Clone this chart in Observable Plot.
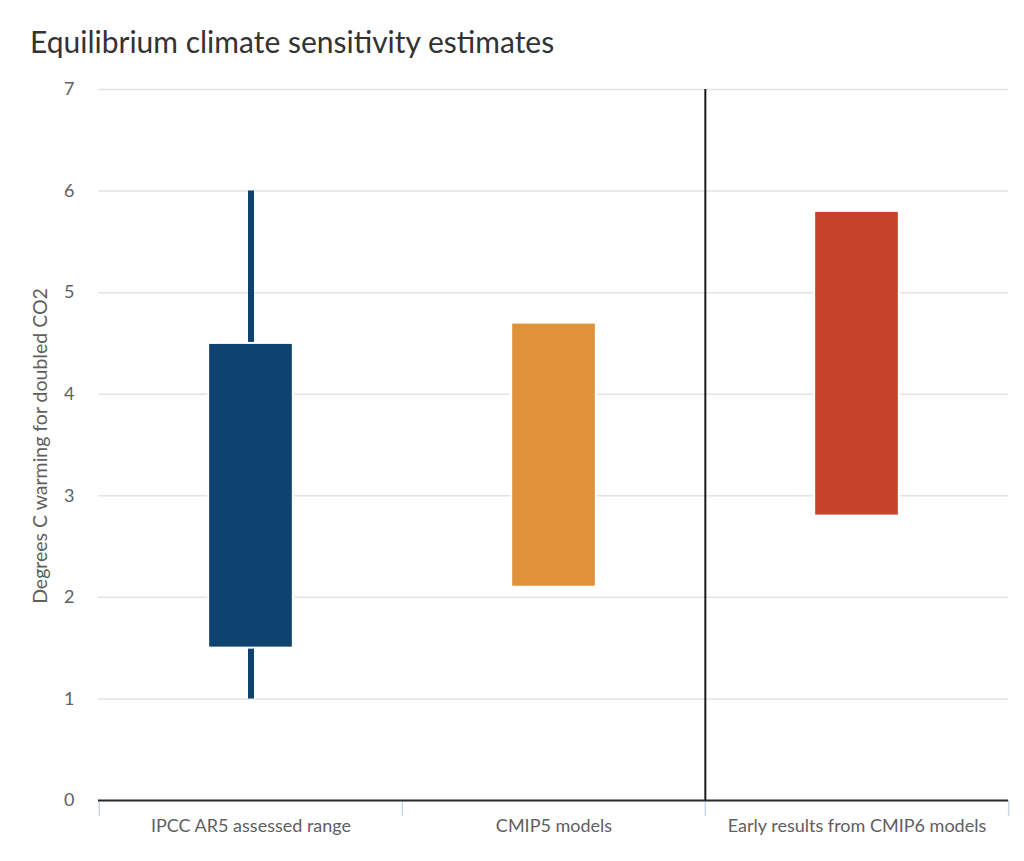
<!DOCTYPE html>
<html>
<head>
<meta charset="utf-8">
<script src="https://cdn.jsdelivr.net/npm/d3@7"></script>
<script src="https://cdn.jsdelivr.net/npm/@observablehq/plot@0.6"></script>
<style>
  html, body { margin: 0; padding: 0; background: #fff; }
  #wrap { position: relative; width: 1024px; height: 861px; overflow: hidden; }
  #title { position: absolute; left: 30px; top: 26px; font-family: Lato, "Open Sans", sans-serif; font-size: 30px; line-height: 30px; color: #333; white-space: nowrap; }
  #chart { position: absolute; left: 0; top: 70px; }
</style>
</head>
<body>
<div id="wrap">
  <div id="title">Equilibrium climate sensitivity estimates</div>
  <div id="chart"></div>
</div>
<script>
const categories = ["IPCC AR5 assessed range", "CMIP5 models", "Early results from CMIP6 models"];
const rangeLow = [1.5, 2.1, 2.8];
const rangeHigh = [4.5, 4.7, 5.8];
const whiskerLow = [1.0, null, null];
const whiskerHigh = [6.0, null, null];
const barColors = ["#0e436f", "#df923a", "#c5432b"];
const yTicks = [0, 1, 2, 3, 4, 5, 6, 7];
const yLabel = "Degrees C warming for doubled CO2";

const W = 1024, H = 791;
const mL = 98, mR = 16, mT = 19, mB = 61;
const bw = (W - mL - mR) / categories.length;
const barW = 85;
const inset = (bw - barW) / 2;

const rows = categories.map((c, i) => ({
  cat: c, lo: rangeLow[i], hi: rangeHigh[i], wlo: whiskerLow[i], whi: whiskerHigh[i], color: barColors[i]
}));
const whiskerRows = rows.filter(d => d.wlo != null && d.whi != null);

const chart = Plot.plot({
  width: W, height: H,
  marginLeft: mL, marginRight: mR, marginTop: mT, marginBottom: mB,
  style: { fontFamily: "Lato, 'Open Sans', sans-serif", fontSize: "18px", color: "#606060", background: "transparent" },
  x: { type: "band", domain: categories, padding: 0, tickSize: 0, tickPadding: 19, label: null },
  y: { domain: [0, 7], ticks: yTicks, tickSize: 0, tickPadding: 24, label: null, tickFormat: d => String(d) },
  color: { type: "identity" },
  marks: [
    Plot.ruleY(yTicks, { stroke: "#e3e3e3", strokeWidth: 1.5 }),
    Plot.ruleX(whiskerRows, { x: "cat", y1: "wlo", y2: "whi", stroke: "color", strokeWidth: 6 }),
    Plot.barY(rows, { x: "cat", y1: "lo", y2: "hi", fill: "color", stroke: "white", strokeWidth: 2, insetLeft: inset, insetRight: inset }),
    Plot.ruleX(categories, { x: d => d, y1: 0, y2: 0, dx: -bw / 2, insetBottom: -16, stroke: "#ccd6eb", strokeWidth: 1.5 }),
    Plot.ruleX([categories[categories.length - 1]], { x: d => d, y1: 0, y2: 0, dx: bw / 2, insetBottom: -16, stroke: "#ccd6eb", strokeWidth: 1.5 }),
    Plot.ruleX([categories[2]], { x: d => d, dx: -bw / 2, stroke: "#1a1a1a", strokeWidth: 2 }),
    Plot.ruleY([0], { stroke: "#2a2a2a", strokeWidth: 2 }),
    Plot.text([yLabel], { text: d => d, frameAnchor: "left", textAnchor: "middle", rotate: -90, dx: -58, dy: 1, fontSize: 19.5, fill: "#606060" })
  ]
});
document.getElementById("chart").appendChild(chart);
</script>
</body>
</html>
